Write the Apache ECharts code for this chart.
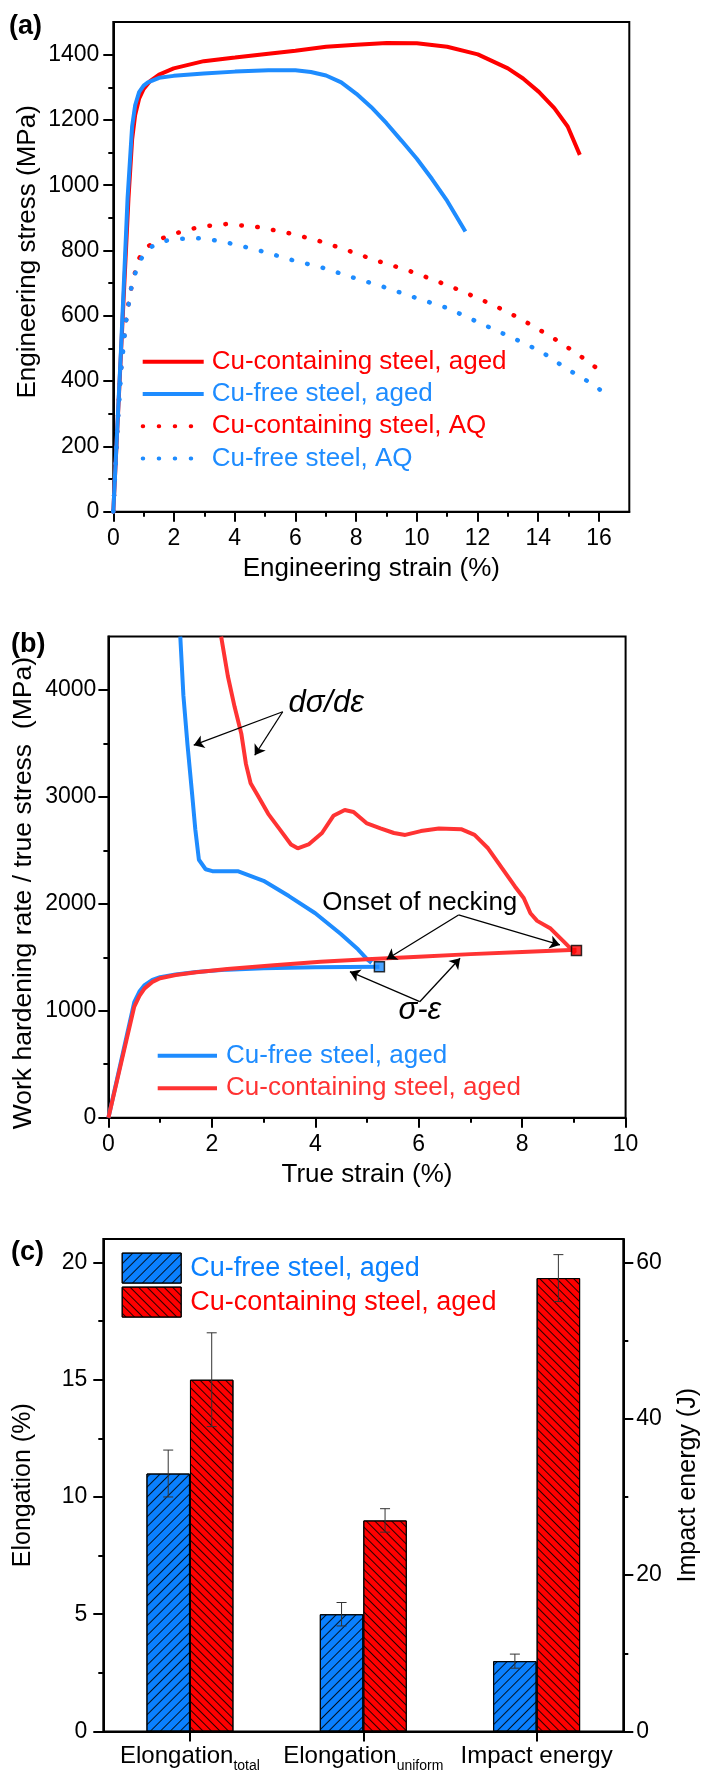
<!DOCTYPE html>
<html>
<head>
<meta charset="utf-8">
<title>Steel tensile / work hardening / elongation</title>
<script src="https://cdn.jsdelivr.net/npm/echarts@6/dist/echarts.min.js"></script>
<style>
  html, body { margin: 0; padding: 0; background: #fff; }
  #main { width: 701px; height: 1778px; }
</style>
</head>
<body>
<div id="main"></div>
<script>
// ---- (a) engineering stress-strain curves ----
var cuAgedStrain = [0, 0.25, 0.5, 0.62, 0.72, 0.85, 1.0, 1.2, 1.51, 1.99, 2.98, 4.01, 5.11, 6.0, 7.01, 8.01, 9.01, 10.0, 11.0, 12.01, 13.0, 13.5, 14.02, 14.53, 14.97, 15.37];
var cuAgedStress = [0, 480, 960, 1140, 1215, 1265, 1295, 1318, 1339, 1358, 1380, 1391, 1403, 1412, 1424, 1430, 1436, 1435, 1424, 1401, 1358, 1327, 1286, 1236, 1180, 1093];
var freeAgedStrain = [0, 0.25, 0.47, 0.62, 0.72, 0.85, 1.0, 1.14, 1.51, 1.99, 2.98, 4.01, 5.11, 6.0, 6.51, 7.01, 7.51, 8.01, 8.5, 9.0, 9.5, 10.0, 10.5, 11.0, 11.3, 11.6];
var freeAgedStress = [0, 490, 960, 1180, 1245, 1285, 1305, 1315, 1329, 1335, 1342, 1348, 1352, 1352, 1347, 1336, 1315, 1280, 1239, 1190, 1136, 1081, 1019, 952, 905, 858];
var cuAQStrain = [0, 0.1, 0.2, 0.3, 0.45, 0.6, 0.82, 1.06, 1.47, 1.95, 2.86, 3.71, 4.7, 5.7, 6.66, 7.58, 8.64, 9.65, 10.53, 11.37, 12.18, 12.99, 13.75, 14.53, 15.3, 16.07];
var cuAQStress = [0, 200, 370, 490, 610, 690, 771, 808, 832, 850, 873, 881, 873, 855, 833, 805, 770, 741, 711, 680, 647, 612, 573, 530, 483, 430];
var freeAQStrain = [0, 0.12, 0.27, 0.42, 0.58, 0.71, 0.89, 1.15, 1.53, 2.08, 2.76, 3.3, 4.01, 4.97, 5.92, 6.91, 7.91, 8.86, 9.97, 11.0, 12.1, 13.21, 14.09, 14.97, 15.93, 16.37];
var freeAQStress = [0, 230, 444, 582, 681, 727, 771, 805, 827, 835, 838, 832, 819, 796, 770, 747, 717, 690, 655, 624, 577, 530, 491, 436, 383, 342];
var aXTicks = [0, 2, 4, 6, 8, 10, 12, 14, 16];
var aXMinor = [1, 3, 5, 7, 9, 11, 13, 15];
var aYTicks = [0, 200, 400, 600, 800, 1000, 1200, 1400];
var aYMinor = [100, 300, 500, 700, 900, 1100, 1300];

// ---- (b) true stress-strain and work hardening rate ----
var freeTrueStrain = [0, 0.25, 0.5, 0.6, 0.7, 0.85, 1.0, 1.3, 1.7, 2.3, 3.0, 4.0, 5.24];
var freeTrueStress = [0, 540, 1080, 1180, 1240, 1290, 1315, 1340, 1362, 1385, 1398, 1408, 1413];
var cuTrueStrain = [0, 0.25, 0.5, 0.6, 0.7, 0.85, 1.0, 1.3, 1.7, 2.3, 3.2, 4.1, 5, 6, 7, 8, 9.05];
var cuTrueStress = [0, 520, 1040, 1140, 1210, 1270, 1305, 1335, 1360, 1390, 1425, 1458, 1482, 1506, 1530, 1550, 1570];
var freeWhrStrain = [1.39, 1.45, 1.53, 1.62, 1.68, 1.75, 1.88, 2.01, 2.5, 3.0, 3.49, 4.0, 4.5, 4.83, 5.0, 5.09];
var freeWhr = [4500, 3950, 3485, 3021, 2699, 2413, 2324, 2306, 2306, 2216, 2073, 1912, 1716, 1573, 1483, 1448];
var cuWhrStrain = [2.18, 2.31, 2.44, 2.57, 2.66, 2.75, 2.88, 3.09, 3.31, 3.53, 3.66, 3.87, 4.13, 4.35, 4.57, 4.74, 5.0, 5.26, 5.52, 5.74, 6.04, 6.39, 6.82, 7.08, 7.34, 7.6, 7.86, 8.03, 8.16, 8.29, 8.55, 8.81, 9.03];
var cuWhr = [4500, 4129, 3843, 3592, 3307, 3128, 3020, 2842, 2699, 2556, 2520, 2556, 2663, 2824, 2878, 2860, 2752, 2706, 2663, 2645, 2681, 2706, 2699, 2645, 2520, 2341, 2163, 2055, 1912, 1841, 1769, 1644, 1537];
var freeNecking = [5.24, 1413];
var cuNecking = [9.05, 1565];
var bXTicks = [0, 2, 4, 6, 8, 10];
var bXMinor = [1, 3, 5, 7, 9];
var bYTicks = [0, 1000, 2000, 3000, 4000];
var bYMinor = [500, 1500, 2500, 3500];
// annotation arrows [from, to] and labels, in data units
var arrows = [
  [[3.37, 3797], [1.65, 3484]],
  [[3.37, 3797], [2.83, 3390]],
  [[6.77, 1896], [8.73, 1616]],
  [[6.77, 1896], [5.38, 1482]],
  [[6.02, 1085], [4.67, 1366]],
  [[6.02, 1085], [6.80, 1491]]
];
var notes = [
  { text: 'd\u03c3/d\u03b5', at: [4.21, 3879], italic: true },
  { text: 'Onset of necking', at: [6.02, 2008], italic: false },
  { text: '\u03c3-\u03b5', at: [6.02, 1000], italic: true }
];

// ---- (c) elongation and impact energy ----
var categories = ['Elongation_total', 'Elongation_uniform', 'Impact energy'];
var freeElong = [11, 5];
var freeElongErr = [1, 0.5];
var cuElong = [15, 9];
var cuElongErr = [2, 0.5];
var freeImpact = 9, freeImpactErr = 0.9;
var cuImpact = 58, cuImpactErr = 3;
var cYTicks = [0, 5, 10, 15, 20];
var cYMinor = [2.5, 7.5, 12.5, 17.5];
var cY2Ticks = [0, 20, 40, 60];
var cY2Minor = [10, 30, 50];

var RED = '#ff0000', BLUE = '#1e8cff', RED_B = '#ff3333', BAR_BLUE = '#0a80ff';
var FONT = 'Liberation Sans';
var BAR_W = 43.5;

function pairs(xs, ys) {
    return xs.map(function (x, i) { return [x, ys[i]]; });
}

// major axis: line + long ticks + labels
function majorAxis(grid, pos, min, max, ticks, margin, name, nameGap, nameSize, namePad) {
    return {
        type: 'value', gridIndex: grid, position: pos, min: min, max: max,
        axisLine: { show: true, onZero: false, lineStyle: { color: '#000', width: 2 } },
        axisTick: { show: true, inside: false, length: 10, customValues: ticks, lineStyle: { color: '#000', width: 2 } },
        axisLabel: {
            show: true, customValues: ticks, margin: margin, fontSize: 23, color: '#000', fontFamily: FONT,
            formatter: function (v) { return String(v); }
        },
        splitLine: { show: false },
        name: name, nameLocation: 'middle', nameGap: nameGap, nameMoveOverlap: false,
        nameTextStyle: { fontSize: nameSize, color: '#000', fontFamily: FONT, padding: namePad || 0 }
    };
}
// minor axis: short ticks only
function minorAxis(grid, pos, min, max, ticks) {
    return {
        type: 'value', gridIndex: grid, position: pos, min: min, max: max, offset: 0,
        axisLine: { show: false, onZero: false },
        axisTick: { show: true, inside: false, length: 5, customValues: ticks, lineStyle: { color: '#000', width: 2 } },
        axisLabel: { show: false },
        splitLine: { show: false }
    };
}

function dotted(color) {
    return { color: color, width: 4.5, type: [0.5, 15.5], cap: 'round' };
}

function errorBars(xIdx, yIdx, items) {
    return {
        type: 'custom', xAxisIndex: xIdx, yAxisIndex: yIdx, z: 10, silent: true,
        data: items,
        renderItem: function (params, api) {
            var hi = api.coord([api.value(0), api.value(2)]);
            var lo = api.coord([api.value(0), api.value(1)]);
            var x = hi[0] + api.value(3) * BAR_W / 2;
            var st = { stroke: '#333', lineWidth: 1 };
            return {
                type: 'group', children: [
                    { type: 'line', shape: { x1: x, y1: hi[1], x2: x, y2: lo[1] }, style: st },
                    { type: 'line', shape: { x1: x - 5, y1: hi[1], x2: x + 5, y2: hi[1] }, style: st },
                    { type: 'line', shape: { x1: x - 5, y1: lo[1], x2: x + 5, y2: lo[1] }, style: st }
                ]
            };
        }
    };
}

var elongErr = [];
freeElong.forEach(function (v, i) { elongErr.push([i, v - freeElongErr[i], v + freeElongErr[i], -1]); });
cuElong.forEach(function (v, i) { elongErr.push([i, v - cuElongErr[i], v + cuElongErr[i], 1]); });
var impactErr = [
    [2, freeImpact - freeImpactErr, freeImpact + freeImpactErr, -1],
    [2, cuImpact - cuImpactErr, cuImpact + cuImpactErr, 1]
];

var blueDecal = { symbol: 'rect', symbolSize: 1, dashArrayX: [1, 0], dashArrayY: [1, 6], rotation: -Math.PI / 4, color: 'rgba(0,0,0,0.85)' };
var redDecal = { symbol: 'rect', symbolSize: 1, dashArrayX: [1, 0], dashArrayY: [1, 5], rotation: Math.PI / 4, color: 'rgba(0,0,0,0.85)' };

var stripTag = function (name) { return name.split('|')[0]; };

var chart = echarts.init(document.getElementById('main'));
var option = {
    animation: false,
    backgroundColor: '#fff',
    textStyle: { fontFamily: FONT },
    grid: [
        { left: 113.3, top: 22, width: 516, height: 489.7, show: true, borderColor: '#000', borderWidth: 2, containLabel: false, outerBoundsMode: 'none' },
        { left: 108.4, top: 636.6, width: 517.2, height: 481.1, show: true, borderColor: '#000', borderWidth: 2, containLabel: false, outerBoundsMode: 'none' },
        { left: 103.3, top: 1239, width: 520, height: 492.5, show: true, borderColor: '#000', borderWidth: 2, containLabel: false, outerBoundsMode: 'none' }
    ],
    xAxis: [
        majorAxis(0, 'bottom', 0, 17, aXTicks, 15, 'Engineering strain (%)', 44, 26),
        minorAxis(0, 'bottom', 0, 17, aXMinor),
        majorAxis(1, 'bottom', 0, 10, bXTicks, 15, 'True strain (%)', 44, 26),
        minorAxis(1, 'bottom', 0, 10, bXMinor),
        {
            type: 'category', gridIndex: 2, position: 'bottom', data: categories,
            axisLine: { show: true, lineStyle: { color: '#000', width: 2 } },
            axisTick: { show: true, alignWithLabel: true, length: 10, lineStyle: { color: '#000', width: 2 } },
            axisLabel: {
                interval: 0, margin: 14, color: '#000',
                formatter: function (v) {
                    var p = v.split('_');
                    return p.length > 1 ? '{m|' + p[0] + '}{s|' + p[1] + '}' : '{m|' + v + '}';
                },
                rich: {
                    m: { fontSize: 24, fontFamily: FONT, color: '#000', lineHeight: 28, verticalAlign: 'bottom', padding: [0, 0, 5, 0] },
                    s: { fontSize: 14, fontFamily: FONT, color: '#000', lineHeight: 18, verticalAlign: 'bottom' }
                }
            },
            splitLine: { show: false }
        },
        { type: 'category', gridIndex: 2, position: 'bottom', data: categories, show: false }
    ],
    yAxis: [
        majorAxis(0, 'left', 0, 1500, aYTicks, 14, 'Engineering stress (MPa)', 72, 26, [0, 0, 0, 30]),
        minorAxis(0, 'left', 0, 1500, aYMinor),
        majorAxis(1, 'left', 0, 4500, bYTicks, 12, 'Work hardening rate / true stress  (MPa)', 71, 26.5, [0, 32, 0, 0]),
        minorAxis(1, 'left', 0, 4500, bYMinor),
        majorAxis(2, 'left', 0, 21, cYTicks, 16, 'Elongation (%)', 68, 25),
        minorAxis(2, 'left', 0, 21, cYMinor),
        majorAxis(2, 'right', 0, 63, cY2Ticks, 13, 'Impact energy (J)', 52, 25),
        minorAxis(2, 'right', 0, 63, cY2Minor)
    ],
    legend: [
        {
            orient: 'vertical', left: 140.7, top: 348.7, padding: 0, itemGap: 6.3,
            itemWidth: 61, itemHeight: 14, selectedMode: false, formatter: stripTag,
            lineStyle: { width: 4 }, itemStyle: { opacity: 0 },
            textStyle: { fontSize: 26, lineHeight: 26, fontFamily: FONT, padding: [0, 0, 0, 3] },
            data: [
                { name: 'Cu-containing steel, aged|a', textStyle: { color: RED } },
                { name: 'Cu-free steel, aged|a', textStyle: { color: BLUE } },
                { name: 'Cu-containing steel, AQ|a', textStyle: { color: RED } },
                { name: 'Cu-free steel, AQ|a', textStyle: { color: BLUE } }
            ]
        },
        {
            orient: 'vertical', left: 155.7, top: 1042.7, padding: 0, itemGap: 6.6,
            itemWidth: 59.3, itemHeight: 14, selectedMode: false, formatter: stripTag,
            lineStyle: { width: 4 }, itemStyle: { opacity: 0 },
            textStyle: { fontSize: 26, lineHeight: 26, fontFamily: FONT, padding: [0, 0, 0, 4] },
            data: [
                { name: 'Cu-free steel, aged|b', textStyle: { color: BLUE } },
                { name: 'Cu-containing steel, aged|b', textStyle: { color: RED_B } }
            ]
        },
        {
            orient: 'vertical', left: 121.7, top: 1252.6, padding: 0, itemGap: 3,
            itemWidth: 59, itemHeight: 30, selectedMode: false, formatter: stripTag, icon: 'rect',
            itemStyle: { borderColor: '#000', borderWidth: 1 },
            textStyle: { fontSize: 27, fontFamily: FONT, padding: [0, 0, 0, 4] },
            data: [
                { name: 'Cu-free steel, aged|c', textStyle: { color: BAR_BLUE } },
                { name: 'Cu-containing steel, aged|c', textStyle: { color: RED } }
            ]
        }
    ],
    graphic: [
        { type: 'text', left: 9, top: 13, style: { text: '(a)', fontSize: 27, fontWeight: 'bold', fontFamily: FONT, fill: '#000' } },
        { type: 'text', left: 11, top: 631, style: { text: '(b)', fontSize: 27, fontWeight: 'bold', fontFamily: FONT, fill: '#000' } },
        { type: 'text', left: 11, top: 1239, style: { text: '(c)', fontSize: 27, fontWeight: 'bold', fontFamily: FONT, fill: '#000' } }
    ],
    series: [
        // (a)
        { name: 'Cu-containing steel, aged|a', type: 'line', xAxisIndex: 0, yAxisIndex: 0, symbol: 'none', z: 2,
          data: pairs(cuAgedStrain, cuAgedStress), itemStyle: { color: RED }, lineStyle: { color: RED, width: 4 } },
        { name: 'Cu-free steel, aged|a', type: 'line', xAxisIndex: 0, yAxisIndex: 0, symbol: 'none', z: 3,
          data: pairs(freeAgedStrain, freeAgedStress), itemStyle: { color: BLUE }, lineStyle: { color: BLUE, width: 4 } },
        { name: 'Cu-containing steel, AQ|a', type: 'line', xAxisIndex: 0, yAxisIndex: 0, symbol: 'none', z: 2,
          data: pairs(cuAQStrain, cuAQStress), itemStyle: { color: RED }, lineStyle: dotted(RED) },
        { name: 'Cu-free steel, AQ|a', type: 'line', xAxisIndex: 0, yAxisIndex: 0, symbol: 'none', z: 3,
          data: pairs(freeAQStrain, freeAQStress), itemStyle: { color: BLUE }, lineStyle: dotted(BLUE) },

        // (b)
        { name: 'Cu-free steel, aged|b', type: 'line', xAxisIndex: 2, yAxisIndex: 2, symbol: 'none', z: 2,
          data: pairs(freeWhrStrain, freeWhr), itemStyle: { color: BLUE }, lineStyle: { color: BLUE, width: 4 } },
        { name: 'Cu-free steel, aged|b', type: 'line', xAxisIndex: 2, yAxisIndex: 2, symbol: 'none', z: 2,
          data: pairs(freeTrueStrain, freeTrueStress), itemStyle: { color: BLUE }, lineStyle: { color: BLUE, width: 4 },
          markLine: {
              silent: true, symbol: ['none', 'arrow'], symbolSize: 10,
              lineStyle: { color: '#000', width: 1.3, type: 'solid' },
              label: { show: false },
              data: arrows.map(function (a) { return [{ coord: a[0] }, { coord: a[1] }]; })
          },
          markPoint: {
              silent: true, symbol: 'rect', symbolSize: 1, itemStyle: { color: 'rgba(0,0,0,0)' },
              data: notes.map(function (n) {
                  return {
                      coord: n.at,
                      label: {
                          show: true, position: 'inside', formatter: n.text, color: '#000', fontFamily: FONT,
                          fontSize: n.italic ? 31 : 26, fontStyle: n.italic ? 'italic' : 'normal'
                      }
                  };
              })
          } },
        { name: 'Cu-containing steel, aged|b', type: 'line', xAxisIndex: 2, yAxisIndex: 2, symbol: 'none', z: 3,
          data: pairs(cuWhrStrain, cuWhr), itemStyle: { color: RED_B }, lineStyle: { color: RED_B, width: 4 } },
        { name: 'Cu-containing steel, aged|b', type: 'line', xAxisIndex: 2, yAxisIndex: 2, symbol: 'none', z: 3,
          data: pairs(cuTrueStrain, cuTrueStress), itemStyle: { color: RED_B }, lineStyle: { color: RED_B, width: 4 } },
        { name: 'necking free', type: 'scatter', xAxisIndex: 2, yAxisIndex: 2, symbol: 'rect', symbolSize: 10, z: 5,
          data: [freeNecking], itemStyle: { color: BLUE, borderColor: '#000', borderWidth: 1.5 } },
        { name: 'necking cu', type: 'scatter', xAxisIndex: 2, yAxisIndex: 2, symbol: 'rect', symbolSize: 10, z: 5,
          data: [cuNecking], itemStyle: { color: RED, borderColor: '#000', borderWidth: 1.5 } },

        // (c)
        { name: 'Cu-free steel, aged|c', type: 'bar', xAxisIndex: 4, yAxisIndex: 4, barWidth: BAR_W, barGap: '0%',
          data: freeElong.concat(['-']), itemStyle: { color: BAR_BLUE, borderColor: '#000', borderWidth: 1, decal: blueDecal } },
        { name: 'Cu-containing steel, aged|c', type: 'bar', xAxisIndex: 4, yAxisIndex: 4, barWidth: BAR_W, barGap: '0%',
          data: cuElong.concat(['-']), itemStyle: { color: RED, borderColor: '#000', borderWidth: 1, decal: redDecal } },
        { name: 'Cu-free steel, aged|c', type: 'bar', xAxisIndex: 5, yAxisIndex: 6, barWidth: BAR_W, barGap: '0%',
          data: ['-', '-', freeImpact], itemStyle: { color: BAR_BLUE, borderColor: '#000', borderWidth: 1, decal: blueDecal } },
        { name: 'Cu-containing steel, aged|c', type: 'bar', xAxisIndex: 5, yAxisIndex: 6, barWidth: BAR_W, barGap: '0%',
          data: ['-', '-', cuImpact], itemStyle: { color: RED, borderColor: '#000', borderWidth: 1, decal: redDecal } },
        errorBars(4, 4, elongErr),
        errorBars(5, 6, impactErr)
    ]
};
chart.setOption(option);
</script>
</body>
</html>
